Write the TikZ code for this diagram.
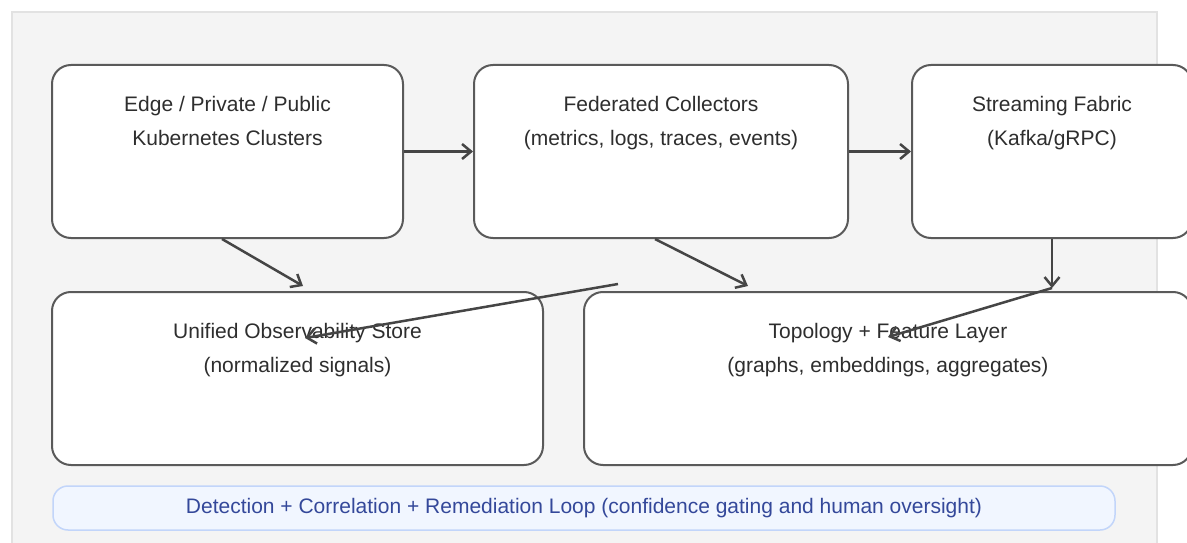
\documentclass[tikz,border=0pt]{standalone}
\usepackage{fontspec}
\setmainfont{Liberation Sans}
\usepackage{xcolor}
\usetikzlibrary{arrows.meta}
\definecolor{panelgray}{HTML}{F4F4F4}
\definecolor{panelline}{HTML}{E2E2E2}
\definecolor{boxline}{HTML}{5A5A5A}
\definecolor{inkgray}{HTML}{2E2E2E}
\definecolor{arrowgray}{HTML}{454545}
\definecolor{loopfill}{HTML}{F1F6FF}
\definecolor{loopline}{HTML}{C2D5FA}
\definecolor{loopink}{HTML}{34489A}
\tikzset{
    stagebox/.style={draw=boxline, fill=white, line width=2pt, rounded corners=19pt,
        inner sep=0pt, minimum height=173pt},
    stagetext/.style={align=center, inner sep=0pt, text=inkgray,
        font=\fontsize{21}{34}\selectfont},
    flow/.style={draw=arrowgray, line width=2.5pt,
        -{Straight Barb[length=9pt, width=15pt, line width=2.5pt]}},
    loopbar/.style={draw=loopline, fill=loopfill, line width=1.5pt, rounded corners=15pt,
        inner sep=0pt, minimum height=44pt, text=loopink,
        font=\fontsize{21}{24}\selectfont}
}

\begin{document}
\begin{tikzpicture}[x=1pt, y=-1pt]
            \clip (0,0) rectangle (1187,543);
            \useasboundingbox (0,0) rectangle (1187,543);

            % backdrop panel
            \filldraw[fill=panelgray, draw=panelline, line width=1.5pt] (12,12) rectangle (1157,560);

            % top row
            \node[stagebox, minimum width=351pt] (clusters) at (227.5,151.5) {};
            \node[stagebox, minimum width=374pt] (collectors) at (661,151.5) {};
            \node[stagebox, minimum width=280pt] (fabric) at (1052,151.5) {};

            % bottom row
            \node[stagebox, minimum width=491pt] (store) at (297.5,378.5) {};
            \node[stagebox, minimum width=608pt] (topology) at (888,378.5) {};

            % box texts
            \node[stagetext, anchor=north] (clusterstext) at ([yshift=-32pt]clusters.north)
                {Edge / Private / Public\\Kubernetes Clusters};
            \node[stagetext, anchor=north] (collectorstext) at ([yshift=-32pt]collectors.north)
                {Federated Collectors\\(metrics, logs, traces, events)};
            \node[stagetext, anchor=north] (fabrictext) at ([yshift=-32pt]fabric.north)
                {Streaming Fabric\\(Kafka/gRPC)};
            \node[stagetext, anchor=north] (storetext) at ([yshift=-32pt]store.north)
                {Unified Observability Store\\(normalized signals)};
            \node[stagetext, anchor=north] (topologytext) at ([yshift=-32pt]topology.north)
                {Topology + Feature Layer\\(graphs, embeddings, aggregates)};

            % bend points
            \coordinate (fabricdrop) at ([yshift=-49pt]fabric.south);
            \coordinate (featuretap) at ([xshift=35pt, yshift=7pt]topology.north west);

            % edges
            \draw[flow] (clusters) -- (collectors);
            \draw[flow] (collectors) -- (fabric);
            \draw[flow] ([xshift=-5.5pt]clusters.south) -- ([xshift=5.5pt, yshift=5pt]store.north);
            \draw[flow] ([xshift=-6pt]collectors.south) -- ([xshift=-140pt, yshift=5pt]topology.north);
            \draw[flow] (fabric.south) -- (fabricdrop);
            \draw[flow] (fabricdrop) -- ([yshift=-46pt]topology.north);
            \draw[flow] (featuretap) -- ([xshift=7.5pt, yshift=-47pt]store.north);

            % loop banner
            \node[loopbar, minimum width=1062pt] (loop) at (584,508)
                {Detection + Correlation + Remediation Loop (confidence gating and human oversight)};
        \end{tikzpicture}
\end{document}
